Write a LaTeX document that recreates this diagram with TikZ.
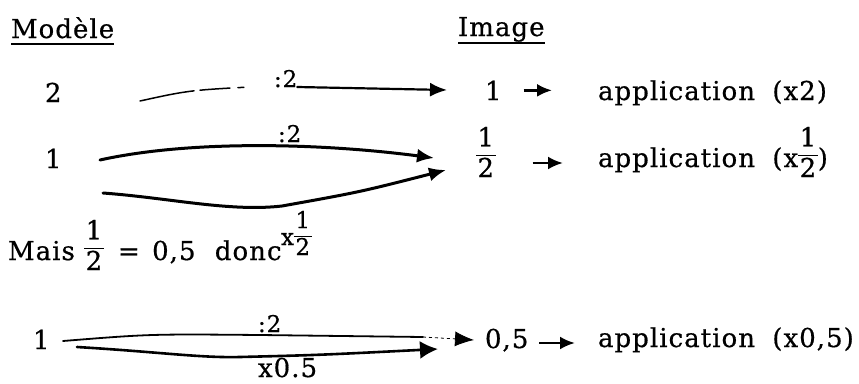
\documentclass[tikz,border=0pt]{standalone}
\usepackage{fontspec}
\setmainfont[LetterSpace=4,FakeBold=0.6]{DejaVu Serif}
\usetikzlibrary{arrows.meta}
\newcommand\fr[2]{\raisebox{-10pt}{\setlength\arrayrulewidth{1.3pt}\renewcommand\arraystretch{0.95}\begin{tabular}[b]{@{\hspace{1.5pt}}c@{\hspace{1.5pt}}}#1\\\hline #2\end{tabular}}}
\begin{document}
\begin{tikzpicture}[x=1pt,y=-1pt,
  every node/.style={inner sep=0pt,outer sep=0pt},
  txt/.style={anchor=base west,font=\fontsize{26}{31}\selectfont},
  lab/.style={anchor=base west,font=\fontsize{23}{27}\selectfont},
  hand/.style={line width=2.2pt,line cap=round},
  bigtip/.style={-{Latex[length=17pt,width=14pt]}},
  smalltip/.style={-{Latex[length=15pt,width=13pt]}},
  smallarr/.style={line width=2.6pt,smalltip}]
\useasboundingbox (0,0) rectangle (859,383);
% headers
\node[txt] (mod) at (11,38) {Modèle};
\node[txt] (img) at (458,36) {Image};
\draw[line width=1.8pt] ([yshift=-6pt]mod.base west) -- ([yshift=-6pt]mod.base east);
\draw[line width=1.8pt] ([yshift=-7pt]img.base west) -- ([yshift=-7pt]img.base east);
% row 1
\node[txt] (m2) at (45,102) {2};
\node[txt] (i1) at (485,100) {1};
\node[txt] (a1) at (598,100) {application\hspace{8pt} (x2)};
\node[lab] (l1) at (274,87) {:2};
\coordinate (s1) at (140,101);
\coordinate (t1) at (447,90);
\draw[line width=1.5pt,line cap=round,dash pattern=on 55pt off 6pt on 30pt off 8pt on 6pt off 30pt] (s1) .. controls (190,90) .. (270,86);
\draw[hand,bigtip] (l1.base east) -- (t1);
\draw[smallarr] ([xshift=22pt]i1.east) -- ([xshift=-46pt]i1.east -| a1.west);
% row 2
\node[txt] (m1) at (45,168) {1};
\node[txt] (ih) at (476,167) {\fr12};
\node[txt] (a2) at (598,167) {application\hspace{8pt} (x\fr12)};
\node[lab] (l2) at (278,142) {:2};
\node[lab] (l3) at (281,245) {x\fr12};
\coordinate (s2) at (100,160);
\coordinate (t2) at (434,158);
\coordinate (s3) at (103,193);
\coordinate (t3) at (446,170);
\draw[line width=3pt,line cap=round,bigtip] (s2) .. controls (190,140) and (320,143) .. (t2);
\draw[line width=3pt,line cap=round,bigtip] (s3) .. controls (170,198) and (230,212) .. (282,206) .. controls (360,192) .. (t3);
\draw[smallarr] ([xshift=37pt]ih.east |- 0,163) -- ([xshift=-35pt]a2.west |- 0,163);
% mais
\node[txt] (mais) at (8,260) {Mais \fr12 \kern5pt= \kern3pt0,5 \kern10pt donc};
% row 3
\node[txt] (m1b) at (33,349) {1};
\node[txt] (i05) at (485,348) {0,5};
\node[txt] (a3) at (598,347) {application\hspace{8pt} (x0,5)};
\node[lab] (l4) at (258,332) {:2};
\node[txt] (l5) at (258,377) {x0.5};
\coordinate (s4) at (63,341);
\coordinate (k4) at (423,337);
\coordinate (t4) at (474,340);
\coordinate (s5) at (77,347);
\coordinate (t5) at (438,349);
\draw[line width=1.8pt,line cap=round] (s4) .. controls (150,334) .. (260,335) -- (k4);
\draw[line width=0.8pt,dashed,-{Latex[length=19pt,width=15pt]}] (k4) -- (t4);
\draw[line width=2.6pt,line cap=round,-{Latex[length=18pt,width=18pt]}] (s5) .. controls (160,352) and (200,358) .. (240,357) .. controls (320,355) .. (t5);
\draw[smallarr] ([xshift=11pt]i05.east |- 0,343) -- ([xshift=-23pt]a3.west |- 0,343);
\end{tikzpicture}
\end{document}
